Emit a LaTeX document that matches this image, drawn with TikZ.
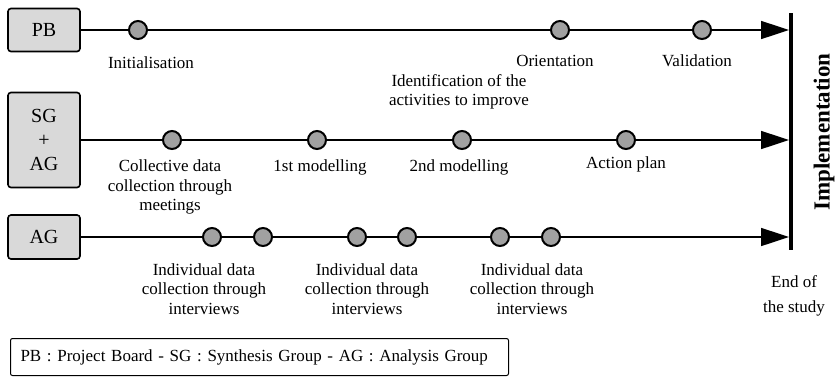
\documentclass[tikz,border=0pt]{standalone}
\usepackage{fontspec}
\setmainfont{Liberation Serif}
\usepackage{tikz}
\usetikzlibrary{arrows.meta}

\begin{document}
\begin{tikzpicture}[x = 1pt, y = -1pt,
    font = \fontsize{17}{19.5}\selectfont,
    group/.style = {draw, line width = 1.6pt, rounded corners = 3pt, fill = black!15,
        minimum width = 72pt, inner sep = 0pt, align = center,
        font = \fontsize{20}{24}\selectfont},
    event/.style = {circle, draw, line width = 2pt, fill = black!37,
        minimum size = 18pt, inner sep = 0pt},
    flow/.style = {line width = 1.6pt},
    lbl/.style = {align = center, inner sep = 0pt}]
    \useasboundingbox (0, 0) rectangle (837, 376);

    % groups
    \node [group, minimum height = 43pt] (pb) at (44, 30) {PB};
    \node [group, minimum height = 95pt] (sgag) at (44, 140) {SG\\+\\AG};
    \node [group, minimum height = 44pt] (ag) at (44, 237) {AG};

    % end of the study
    \coordinate (bartop) at (791, 13);
    \coordinate (barbot) at (791, 250);
    \draw [line width = 4pt] (bartop) -- (barbot);
    \foreach \r/\y in {pb/30, sgag/140, ag/237} {
        \coordinate (\r end) at (789, \y);
    }

    % milestones
    \foreach \x [count = \n] in {138, 560, 702} {
        \node [event] (pb\n) at (\x, 30) {};
    }
    \foreach \x [count = \n] in {172, 317, 462, 626} {
        \node [event] (sgag\n) at (\x, 140) {};
    }
    \foreach \x [count = \n] in {212, 263, 357, 407, 500, 551} {
        \node [event] (ag\n) at (\x, 237) {};
    }

    \draw [flow, -{Triangle[length = 28pt, width = 18pt]}]
        (pb) -- (pb1) -- (pb2) -- (pb3) -- (pbend);
    \draw [flow, -{Triangle[length = 28pt, width = 18pt]}]
        (sgag) -- (sgag1) -- (sgag2) -- (sgag3) -- (sgag4) -- (sgagend);
    \draw [flow, -{Triangle[length = 28pt, width = 18pt]}]
        (ag) -- (ag1) -- (ag2) -- (ag3) -- (ag4) -- (ag5) -- (ag6) -- (agend);

    % labels
    \node [lbl] (init) at (151, 63) {Initialisation};
    \node [lbl] (orient) at (555, 61) {Orientation};
    \node [lbl] (valid) at (697, 61) {Validation};
    \node [lbl] (ident) at (459, 92) {Identification of the\\activities to improve};
    \node [lbl] (collect) at (170, 187) {Collective data\\collection through\\meetings};
    \node [lbl] (model1) at (320, 167) {1st modelling};
    \node [lbl] (model2) at (459, 167) {2nd modelling};
    \node [lbl] (plan) at (626, 164) {Action plan};
    \foreach \x [count = \n] in {204, 367, 532} {
        \node [lbl] (indiv\n) at (\x, 289) {Individual data\\collection through\\interviews};
    }
    \node [lbl, font = \fontsize{17}{25}\selectfont] (end) at (794, 296) {End of\\the study};
    \node [lbl, rotate = 90, font = \fontsize{23}{26}\selectfont\bfseries] (impl) at (824, 132) {Implementation};

    \node [draw, line width = 1pt, rounded corners = 2pt, anchor = north west,
        minimum height = 37pt, text width = 478pt, inner xsep = 10pt, inner ysep = 0pt,
        align = left] (legend) at (10, 338)
        {PB : Project Board - SG : Synthesis Group - AG : Analysis Group};
\end{tikzpicture}
\end{document}
